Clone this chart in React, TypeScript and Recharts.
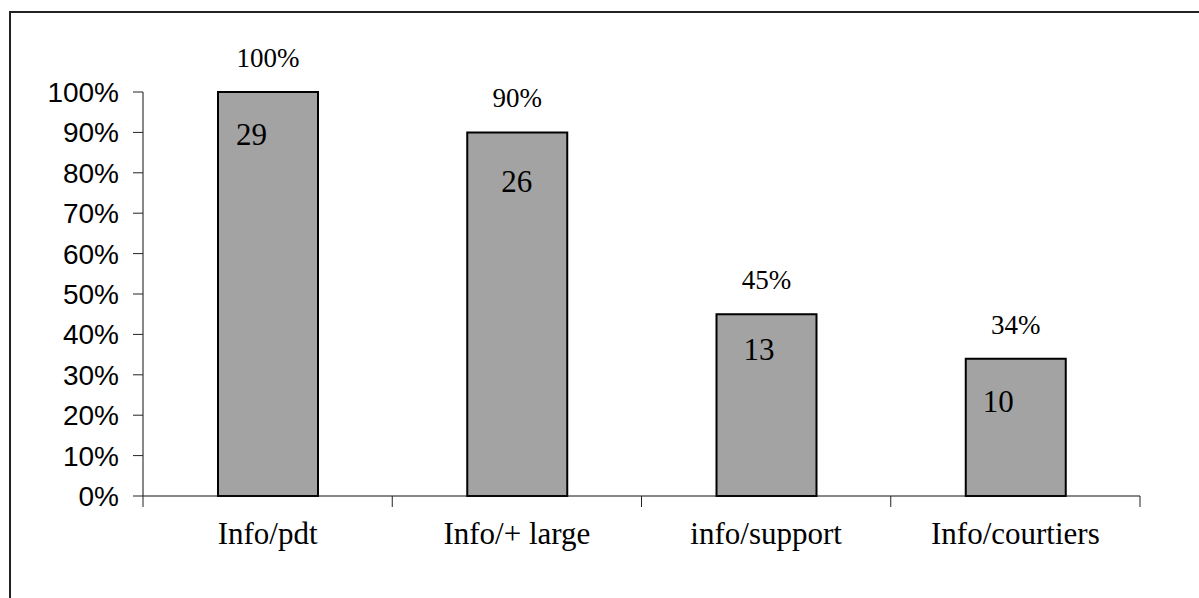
import React from "react";
import { BarChart, Bar, XAxis, YAxis, LabelList } from "recharts";

// Share of respondents per information source, with the raw counts
const categories = ["Info/pdt", "Info/+ large", "info/support", "Info/courtiers"];
const shares = [100, 90, 45, 34];
const counts = [29, 26, 13, 10];
const yTicks = [0, 10, 20, 30, 40, 50, 60, 70, 80, 90, 100];

const data = categories.map((name, i) => ({ name, share: shares[i], count: counts[i] }));

const CHART_W = 1188;
const CHART_H = 585;
const MARGIN = { top: 79, right: 59, bottom: 42, left: 0 };
const Y_AXIS_W = 132;
const PLOT_W = CHART_W - MARGIN.left - MARGIN.right - Y_AXIS_W;
const BAND = PLOT_W / categories.length;

const SERIF = "'Liberation Serif', 'Times New Roman', serif";
const SANS = "'Liberation Sans', Arial, sans-serif";

// Where the count sits inside each bar (from bar's left/top edge)
const countNudge = [
  { dx: 18, dy: 53 },
  { dx: 34, dy: 60 },
  { dx: 27, dy: 46 },
  { dx: 17, dy: 53 },
];

// Category label with tick marks on the band boundaries
const CategoryTick = (props: any) => {
  const { x, y, payload, index } = props;
  const left = x - BAND / 2;
  const right = x + BAND / 2;
  return (
    <g>
      <line x1={left} y1={y} x2={left} y2={y + 11} stroke="#222" strokeWidth={1} />
      {index === categories.length - 1 && (
        <line x1={right} y1={y} x2={right} y2={y + 11} stroke="#222" strokeWidth={1} />
      )}
      <text x={x} y={y + 48} textAnchor="middle" fontFamily={SERIF} fontSize={31} fill="#000">
        {payload.value}
      </text>
    </g>
  );
};

const CountLabel = (props: any) => {
  const { x, y, value, index } = props;
  const n = countNudge[index] || { dx: 20, dy: 50 };
  return (
    <text x={x + n.dx} y={y + n.dy} fontFamily={SERIF} fontSize={31} fill="#000">
      {value}
    </text>
  );
};

export default function App() {
  return (
    <div
      style={{
        position: "fixed",
        left: 0,
        top: 0,
        width: 1199,
        height: 598,
        overflow: "hidden",
        background: "#fff",
      }}
    >
      <div
        style={{
          position: "absolute",
          left: 9,
          top: 11,
          width: 1199,
          height: 598,
          borderTop: "2px solid #222",
          borderLeft: "2px solid #222",
        }}
      >
        <BarChart width={CHART_W} height={CHART_H} data={data} margin={MARGIN}>
          <XAxis
            dataKey="name"
            height={60}
            axisLine={{ stroke: "#111", strokeWidth: 1 }}
            tickLine={false}
            tickSize={0}
            tickMargin={0}
            tick={<CategoryTick />}
            interval={0}
          />
          <YAxis
            width={Y_AXIS_W}
            domain={[0, 100]}
            ticks={yTicks}
            interval={0}
            tickFormatter={(v: number) => `${v}%`}
            axisLine={{ stroke: "#111", strokeWidth: 1 }}
            tickLine={{ stroke: "#222", strokeWidth: 1 }}
            tickSize={10}
            tickMargin={14}
            tick={{ fontFamily: SANS, fontSize: 28, fill: "#000" }}
          />
          <Bar
            dataKey="share"
            barSize={100}
            fill="#A3A3A3"
            stroke="#000"
            strokeWidth={2}
            isAnimationActive={false}
          >
            <LabelList
              dataKey="share"
              position="top"
              offset={25}
              formatter={(v: number) => `${v}%`}
              style={{ fontFamily: SERIF, fontSize: 27, fill: "#000" }}
            />
            <LabelList dataKey="count" content={<CountLabel />} />
          </Bar>
        </BarChart>
      </div>
    </div>
  );
}
